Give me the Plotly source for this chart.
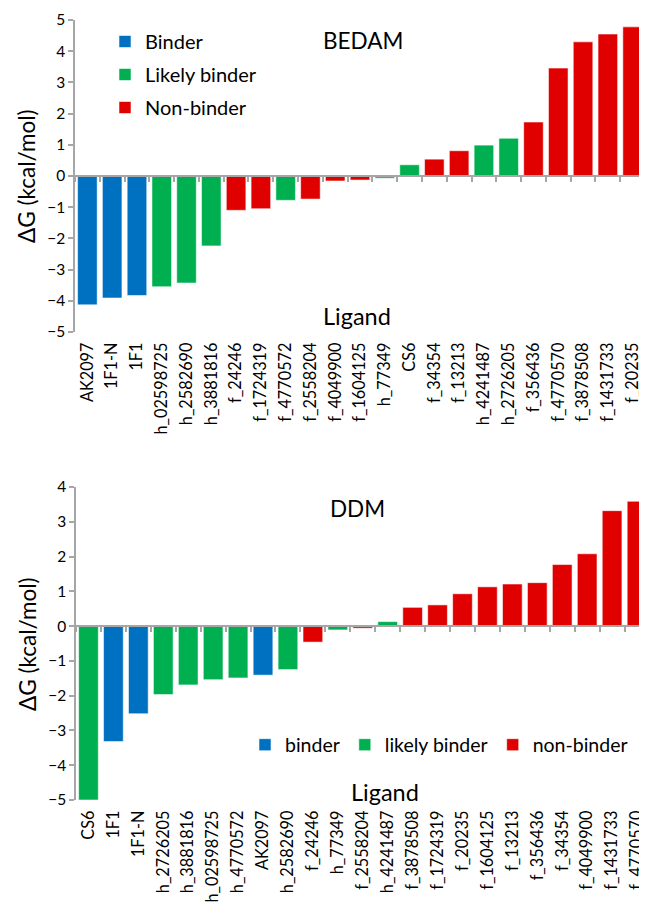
import plotly.graph_objects as go

# ---------------- data ----------------
bedam_ligands = ["AK2097", "1F1-N", "1F1", "h_02598725", "h_2582690", "h_3881816",
                 "f_24246", "f_1724319", "f_4770572", "f_2558204", "f_4049900",
                 "f_1604125", "h_77349", "CS6", "f_34354", "f_13213", "h_4241487",
                 "h_2726205", "f_356436", "f_4770570", "f_3878508", "f_1431733", "f_20235"]
bedam_dg = [-4.13, -3.91, -3.83, -3.55, -3.43, -2.24, -1.10, -1.05, -0.78, -0.74,
            -0.16, -0.13, -0.07, 0.36, 0.54, 0.81, 0.99, 1.21, 1.73, 3.46, 4.30, 4.55, 4.78]
bedam_class = ["B", "B", "B", "L", "L", "L", "N", "N", "L", "N", "N",
               "N", "L", "L", "N", "N", "L", "L", "N", "N", "N", "N", "N"]

ddm_ligands = ["CS6", "1F1", "1F1-N", "h_2726205", "h_3881816", "h_02598725",
               "h_4770572", "AK2097", "h_2582690", "f_24246", "h_77349", "f_2558204",
               "h_4241487", "f_3878508", "f_1724319", "f_20235", "f_1604125", "f_13213",
               "f_356436", "f_34354", "f_4049900", "f_1431733", "f_4770570"]
ddm_dg = [-5.0, -3.32, -2.52, -1.97, -1.69, -1.54, -1.49, -1.41, -1.25, -0.46,
          -0.11, -0.06, 0.13, 0.54, 0.61, 0.93, 1.13, 1.21, 1.25, 1.77, 2.08, 3.32, 3.59]
ddm_class = ["L", "B", "B", "L", "L", "L", "L", "B", "L", "N", "L", "N",
             "L", "N", "N", "N", "N", "N", "N", "N", "N", "N", "N"]

class_keys = ["B", "L", "N"]
bedam_names = ["Binder", "Likely binder", "Non-binder"]
ddm_names = ["binder", "likely binder", "non-binder"]
class_colors = {"B": "#0070C0", "L": "#00B050", "N": "#E00000"}

y_title = "ΔG (kcal/mol)"

# ---------------- layout constants ----------------
# the page body adds an 8px margin, so the figure is 8px smaller on each axis
OFF = 8
W, H = 647 - OFF, 905 - OFF
FONT = "Lato"
AXIS_COLOR = "#A6A6A6"


def px(x):  # page x -> paper fraction
    return (x - OFF) / W


def py(y):  # page y -> paper fraction
    return 1 - (y - OFF) / H


top_dom = [py(332), py(20)]
bot_dom = [py(800), py(487)]
top_yr = [-5, 5]
bot_yr = [-5, 4]
top_xr = [-0.5, len(bedam_ligands) - 0.5]
bot_xr = [-0.5, len(ddm_ligands) - 0.6]


def zero_frac(dom, yr):
    return dom[0] + (dom[1] - dom[0]) * (0 - yr[0]) / (yr[1] - yr[0])


fig = go.Figure()


def add_bars(ligs, vals, classes, names, xa_zero, xa_label, ya, legend):
    for key, nm in zip(class_keys, names):
        xs = [l for l, c in zip(ligs, classes) if c == key]
        ys = [v for v, c in zip(vals, classes) if c == key]
        xa = xa_label if key == "N" else xa_zero
        fig.add_trace(go.Bar(
            x=xs, y=ys, name=nm, xaxis=xa, yaxis=ya, legend=legend,
            legendgroup=legend + key,
            marker=dict(color=class_colors[key],
                        line=dict(color="rgba(255,255,255,0.55)", width=1)),
            hoverinfo="x+y",
        ))


add_bars(bedam_ligands, bedam_dg, bedam_class, bedam_names, "x", "x2", "y", "legend")
add_bars(ddm_ligands, ddm_dg, ddm_class, ddm_names, "x3", "x4", "y3", "legend2")

# axis drawn at y = 0 with tick marks between categories
zero_common = dict(type="category", showgrid=False, zeroline=False, showline=True,
                   linecolor=AXIS_COLOR, linewidth=1.5, ticks="outside", ticklen=5,
                   tickcolor=AXIS_COLOR, tickwidth=1.5, tickson="boundaries",
                   showticklabels=False, anchor="free", categoryorder="array",
                   automargin=False)
# overlaid axis carrying the ligand names at the bottom of the plot
label_common = dict(type="category", showgrid=False, zeroline=False, showline=False,
                    ticks="outside", ticklen=3, tickcolor="rgba(0,0,0,0)",
                    tickangle=-90, automargin=False, categoryorder="array",
                    side="bottom",
                    tickfont=dict(family=FONT, size=16.3, color="#000"))
y_common = dict(showgrid=False, zeroline=True, zerolinecolor=AXIS_COLOR,
                zerolinewidth=1.5, showline=True, linecolor=AXIS_COLOR,
                linewidth=1.5, ticks="outside", ticklen=5, tickcolor=AXIS_COLOR,
                tickwidth=1.5, dtick=1, tick0=0, automargin=False,
                tickfont=dict(family=FONT, size=15.5, color="#000"))

fig.update_layout(
    width=W, height=H, margin=dict(l=0, r=0, t=0, b=0, autoexpand=False),
    paper_bgcolor="white", plot_bgcolor="white",
    barmode="overlay", bargap=0.21,
    font=dict(family=FONT, color="#000"),
    xaxis=dict(zero_common, domain=[px(75), px(645)], range=top_xr,
               categoryarray=bedam_ligands, position=zero_frac(top_dom, top_yr)),
    yaxis=dict(y_common, domain=top_dom, range=top_yr, anchor="x"),
    xaxis2=dict(label_common, overlaying="x", anchor="y", range=top_xr,
                categoryarray=bedam_ligands),
    xaxis3=dict(zero_common, domain=[px(76), 1], range=bot_xr,
                categoryarray=ddm_ligands, position=zero_frac(bot_dom, bot_yr)),
    yaxis3=dict(y_common, domain=bot_dom, range=bot_yr, anchor="x3"),
    xaxis4=dict(label_common, overlaying="x3", anchor="y3", range=bot_xr,
                categoryarray=ddm_ligands),
    legend=dict(x=px(105), y=py(22), xanchor="left", yanchor="top",
                orientation="v", font=dict(family=FONT, size=20),
                tracegroupgap=4, bgcolor="rgba(0,0,0,0)", itemclick=False),
    legend2=dict(x=px(245), y=py(745), xanchor="left", yanchor="middle",
                 orientation="h", font=dict(family=FONT, size=19.5),
                 bgcolor="rgba(0,0,0,0)", itemclick=False),
    showlegend=True,
)

ann_font = dict(family=FONT, size=22.5, color="#000")


def label(text, x, y, angle=0, size=22.5):
    fig.add_annotation(text=text, textangle=angle, x=px(x), y=py(y),
                       xref="paper", yref="paper", xanchor="center", yanchor="middle",
                       showarrow=False, font=dict(ann_font, size=size))


label(y_title, 26, 176, -90)
label(y_title, 27, 644, -90)
label("BEDAM", 363, 40)
label("DDM", 357, 508)
label("Ligand", 357, 316, size=23.5)
label("Ligand", 385, 792, size=23.5)

fig.write_html("out.html")
